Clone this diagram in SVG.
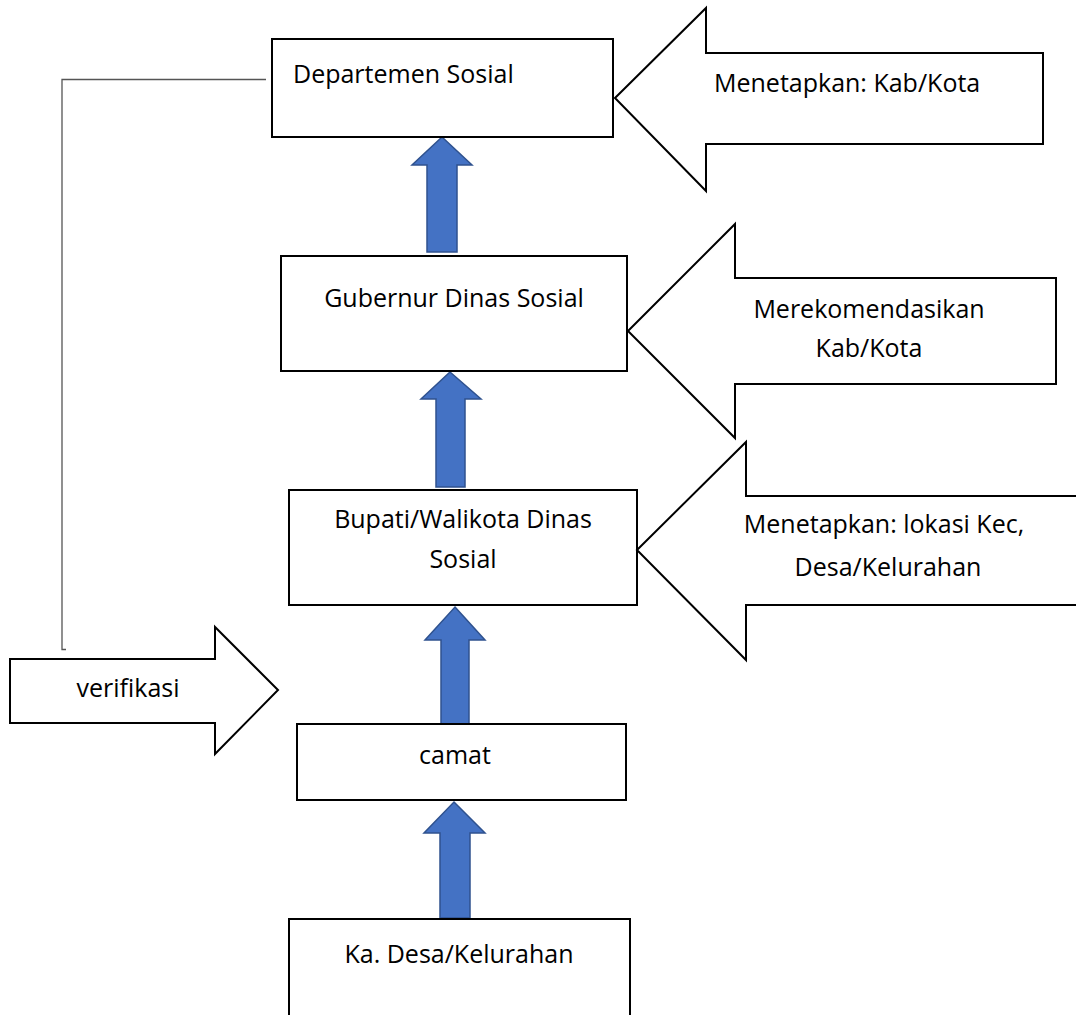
<svg xmlns="http://www.w3.org/2000/svg" width="1076" height="1015" viewBox="0 0 1076 1015">
<style>
  .box { fill: #ffffff; stroke: #000000; stroke-width: 2; }
  .big { fill: #ffffff; stroke: #000000; stroke-width: 2; stroke-linejoin: miter; }
  .blue { fill: #4472C4; stroke: #2F528F; stroke-width: 1.5; }
  .conn { fill: none; stroke: #555555; stroke-width: 1.3; }
  text { font-family: "Open Sans", "Liberation Sans", sans-serif; font-size: 25px; fill: #000000; }
  .c { text-anchor: middle; }
</style>
<rect width="1076" height="1015" fill="#ffffff"/>

<g id="connectors">
  <polyline class="conn" points="266,79.5 62,79.5 62,649.5 66,649.5"/>
  <polygon class="blue" points="442,137 472,165 457,165 457,252 427,252 427,165 412,165"/>
  <polygon class="blue" points="450,372 481,399 465,399 465,487 436,487 436,399 421,399"/>
  <polygon class="blue" points="455,607 485,640 469,640 469,724 441,724 441,640 425,640"/>
  <polygon class="blue" points="454,802 485,833 470,833 470,918 440,918 440,833 424,833"/>
</g>

<g id="departemen-sosial">
  <rect class="box" x="272" y="39" width="341" height="98"/>
  <text x="293" y="83">Departemen Sosial</text>
</g>

<g id="gubernur-dinas-sosial">
  <rect class="box" x="281" y="256" width="346" height="115"/>
  <text class="c" x="454" y="307">Gubernur Dinas Sosial</text>
</g>

<g id="bupati-walikota">
  <rect class="box" x="289" y="490" width="348" height="115"/>
  <text class="c" x="463" y="528">Bupati/Walikota Dinas</text>
  <text class="c" x="463" y="568">Sosial</text>
</g>

<g id="camat">
  <rect class="box" x="297" y="724" width="329" height="76"/>
  <text class="c" x="455" y="764">camat</text>
</g>

<g id="ka-desa">
  <rect class="box" x="289" y="919" width="341" height="110"/>
  <text class="c" x="459" y="963">Ka. Desa/Kelurahan</text>
</g>

<g id="menetapkan-kab-kota">
  <polygon class="big" points="615,98 706,8 706,53 1043,53 1043,144 706,144 706,191"/>
  <text x="714" y="92">Menetapkan: Kab/Kota</text>
</g>

<g id="merekomendasikan">
  <polygon class="big" points="628,331 735,224 735,278 1056,278 1056,384 735,384 735,438"/>
  <text class="c" x="869" y="318">Merekomendasikan</text>
  <text class="c" x="869" y="357">Kab/Kota</text>
</g>

<g id="menetapkan-lokasi">
  <polygon class="big" points="637,550 746,442 746,496 1080,496 1080,605 746,605 746,660"/>
  <text class="c" x="884" y="533">Menetapkan: lokasi Kec,</text>
  <text class="c" x="888" y="576">Desa/Kelurahan</text>
</g>

<g id="verifikasi">
  <polygon class="big" points="10,659 215,659 215,627 278,690 215,754 215,723 10,723"/>
  <text class="c" x="128" y="697">verifikasi</text>
</g>
</svg>
